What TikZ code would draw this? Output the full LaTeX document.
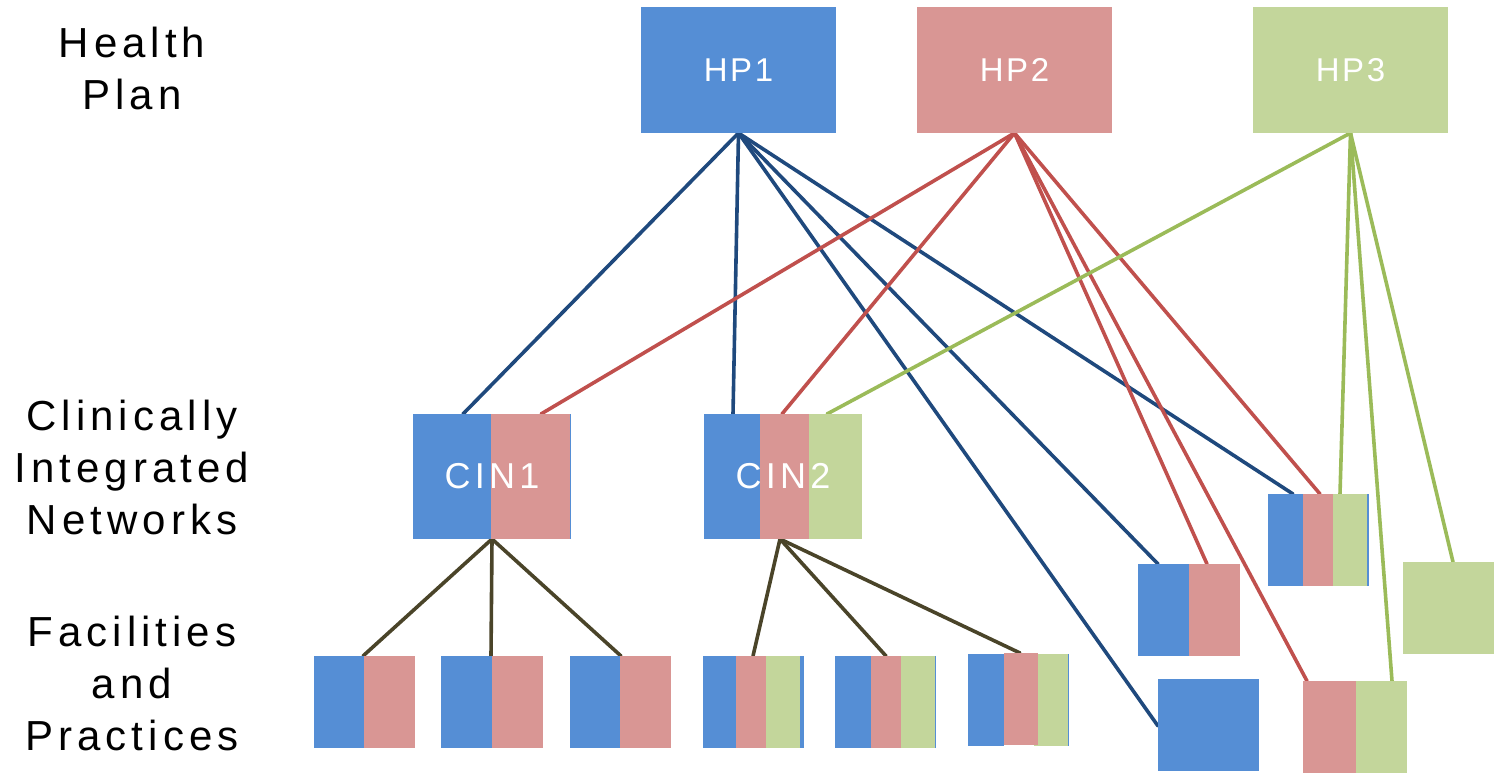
\documentclass[tikz,border=0pt]{standalone}
\usepackage{fontspec}
\setmainfont{Liberation Sans}
\newfontfamily\spacedfont[LetterSpace=12]{Liberation Sans}
\newfontfamily\hpfont[LetterSpace=8]{Liberation Sans}
\usetikzlibrary{calc}
\definecolor{fblue}{HTML}{558ED5}
\definecolor{fpink}{HTML}{D99694}
\definecolor{fgreen}{HTML}{C3D69B}
\definecolor{lblue}{HTML}{1F497D}
\definecolor{lred}{HTML}{C0504D}
\definecolor{lgreen}{HTML}{9BBB59}
\definecolor{lolive}{HTML}{4A4429}
\pgfdeclarelayer{bg}
\pgfsetlayers{bg,main}
\begin{document}
\begin{tikzpicture}[x=1pt,y=-1pt,
  slot/.style={inner sep=0pt,outer sep=0pt,anchor=north west,draw=none},
  hptext/.style={text=white,font=\hpfont\fontsize{33}{38}\selectfont},
  cintext/.style={text=white,font=\spacedfont\fontsize{36}{42}\selectfont},
  tier/.style={align=center,anchor=base,inner sep=0pt,
    font=\spacedfont\fontsize{42}{52}\selectfont},
  link/.style={line width=3.6pt,line cap=round},
  bl/.style={link,draw=lblue},
  rd/.style={link,draw=lred},
  gr/.style={link,draw=lgreen},
  ol/.style={link,draw=lolive}]
\useasboundingbox (0,0) rectangle (1494,773);

% tier labels (anchored at the baseline of the last line)
\node[tier] (tHP)  at (132,110) {Health\\Plan};
\node[tier] (tCIN) at (132,534) {Clinically\\Integrated\\Networks};
\node[tier] (tFP)  at (132,750) {Facilities\\and\\Practices};

% health plans
\fill[fblue]  (641,7)  rectangle (836,133);
\fill[fpink]  (917,7)  rectangle (1112,133);
\fill[fgreen] (1253,7) rectangle (1448,133);
\node[slot,minimum width=195pt,minimum height=126pt,hptext] (hp1) at (641,7)  {HP1};
\node[slot,minimum width=195pt,minimum height=126pt,hptext] (hp2) at (917,7)  {HP2};
\node[slot,minimum width=195pt,minimum height=126pt,hptext] (hp3) at (1253,7) {HP3};

% clinically integrated networks
\fill[fblue]  (413,414) rectangle (491,539);
\fill[fpink]  (491,414) rectangle (570,539);
\fill[fblue]  (570,414) rectangle (571,539);
\fill[fblue]  (704,414) rectangle (760,539);
\fill[fpink]  (760,414) rectangle (809,539);
\fill[fgreen] (809,414) rectangle (862,539);
\node[slot,minimum width=158pt,minimum height=125pt,cintext] (cin1) at (413,414) {CIN1};
\node[slot,minimum width=158pt,minimum height=125pt,cintext] (cin2) at (704,414) {CIN2};

% facilities and practices under the networks
\fill[fblue] (314,656) rectangle (364,748);
\fill[fpink] (364,656) rectangle (415,748);
\node[slot,minimum width=101pt,minimum height=92pt] (f1) at (314,656) {};
\fill[fblue] (441,656) rectangle (492,748);
\fill[fpink] (492,656) rectangle (543,748);
\node[slot,minimum width=102pt,minimum height=92pt] (f2) at (441,656) {};
\fill[fblue] (570,656) rectangle (620,748);
\fill[fpink] (620,656) rectangle (671,748);
\node[slot,minimum width=101pt,minimum height=92pt] (f3) at (570,656) {};
\fill[fblue]  (703,656) rectangle (736,748);
\fill[fpink]  (736,656) rectangle (766,748);
\fill[fgreen] (766,656) rectangle (800,748);
\fill[fblue]  (800,656) rectangle (804,748);
\node[slot,minimum width=101pt,minimum height=92pt] (f4) at (703,656) {};
\fill[fblue]  (835,656) rectangle (871,748);
\fill[fpink]  (871,656) rectangle (901,748);
\fill[fgreen] (901,656) rectangle (935,748);
\fill[fblue]  (935,656) rectangle (936,748);
\node[slot,minimum width=101pt,minimum height=92pt] (f5) at (835,656) {};
\fill[fblue]  (968,654)  rectangle (1004,746);
\fill[fgreen] (1034,654) rectangle (1068,746);
\fill[fpink]  (1004,653) rectangle (1038,745);
\fill[fblue]  (1068,654) rectangle (1069,746);
\node[slot,minimum width=101pt,minimum height=93pt] (f6) at (968,653) {};

% facilities and practices tied directly to plans
\fill[fblue]  (1268,494) rectangle (1303,586);
\fill[fpink]  (1303,494) rectangle (1333,586);
\fill[fgreen] (1333,494) rectangle (1367,586);
\fill[fblue]  (1367,494) rectangle (1369,586);
\node[slot,minimum width=101pt,minimum height=92pt] (pa) at (1268,494) {};
\fill[fblue] (1138,564) rectangle (1189,656);
\fill[fpink] (1189,564) rectangle (1240,656);
\node[slot,minimum width=102pt,minimum height=92pt] (pb) at (1138,564) {};
\fill[fgreen] (1403,562) rectangle (1494,654);
\node[slot,minimum width=91pt,minimum height=92pt] (pc) at (1403,562) {};
\fill[fblue] (1158,679) rectangle (1259,771);
\node[slot,minimum width=101pt,minimum height=92pt] (pd) at (1158,679) {};
\fill[fpink]  (1303,681) rectangle (1356,773);
\fill[fgreen] (1356,681) rectangle (1407,773);
\node[slot,minimum width=104pt,minimum height=92pt] (pe) at (1303,681) {};

% connectors, kept behind the boxes
\begin{pgfonlayer}{bg}
  % HP1
  \draw[bl] (hp1.south) -- ([xshift=50pt]cin1.north west);
  \draw[bl] (hp1.south) -- ([xshift=29pt]cin2.north west);
  \draw[bl] (hp1.south) -- ([yshift=-1pt]pd.west);
  \draw[bl] (hp1.south) -- ([xshift=20pt]pb.north west);
  \draw[bl] (hp1.south) -- ([xshift=25pt]pa.north west);
  % HP2
  \draw[rd] (hp2.south) -- ([xshift=128pt]cin1.north west);
  \draw[rd] (hp2.south) -- ([xshift=78pt]cin2.north west);
  \draw[rd] (hp2.south) -- ([xshift=69pt]pb.north west);
  \draw[rd] (hp2.south) -- ([xshift=4pt]pe.north west);
  \draw[rd] (hp2.south) -- ([xshift=52pt]pa.north west);
  % HP3
  \draw[gr] (hp3.south) -- ([xshift=123pt]cin2.north west);
  \draw[gr] (hp3.south) -- ([xshift=72pt]pa.north west);
  \draw[gr] (hp3.south) -- ([xshift=89pt]pe.north west);
  \draw[gr] (hp3.south) -- ([xshift=50pt]pc.north west);
  % CIN1
  \draw[ol] (cin1.south) -- ([xshift=49pt]f1.north west);
  \draw[ol] (cin1.south) -- ([xshift=50pt]f2.north west);
  \draw[ol] (cin1.south) -- ([xshift=51pt]f3.north west);
  % CIN2
  \draw[ol] ([xshift=76pt]cin2.south west) -- ([xshift=50pt]f4.north west);
  \draw[ol] ([xshift=76pt]cin2.south west) -- ([xshift=51pt]f5.north west);
  \draw[ol] ([xshift=76pt]cin2.south west) -- ([xshift=52pt]f6.north west);
\end{pgfonlayer}
\end{tikzpicture}
\end{document}
